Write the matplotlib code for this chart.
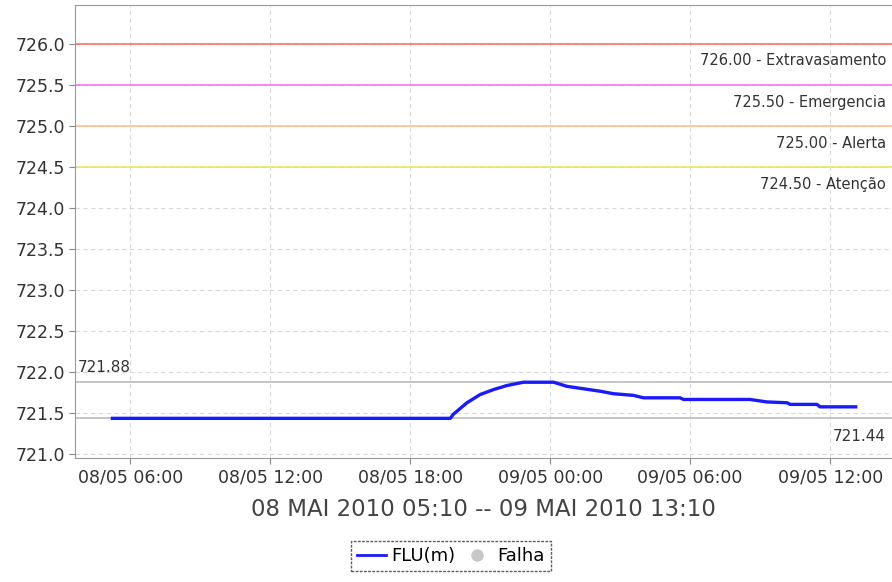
import matplotlib
matplotlib.use("Agg")
import matplotlib.pyplot as plt
import matplotlib.dates as mdates
from matplotlib.lines import Line2D
import pandas as pd

# ---- data ----
times = ["2010-05-08 05:10", "2010-05-08 19:43", "2010-05-08 19:51", "2010-05-08 20:26",
         "2010-05-08 21:00", "2010-05-08 21:34", "2010-05-08 22:09", "2010-05-08 22:51",
         "2010-05-09 00:09", "2010-05-09 00:43", "2010-05-09 01:26", "2010-05-09 02:09",
         "2010-05-09 02:43", "2010-05-09 03:34", "2010-05-09 04:00", "2010-05-09 05:34",
         "2010-05-09 05:43", "2010-05-09 08:34", "2010-05-09 09:17", "2010-05-09 10:09",
         "2010-05-09 10:17", "2010-05-09 11:26", "2010-05-09 11:34", "2010-05-09 13:10"]
levels = [721.44, 721.44, 721.49, 721.63, 721.73, 721.79, 721.84, 721.88,
          721.88, 721.83, 721.80, 721.77, 721.74, 721.72, 721.69, 721.69,
          721.67, 721.67, 721.64, 721.63, 721.61, 721.61, 721.58, 721.58]

thresh_values = [726.00, 725.50, 725.00, 724.50]
thresh_names = ["Extravasamento", "Emergencia", "Alerta", "Atenção"]
thresh_colors = ["#ff7070", "#ff70ff", "#ffc090", "#f0e070"]

max_level = 721.88
min_level = 721.44

x_ticks = ["2010-05-08 06:00", "2010-05-08 12:00", "2010-05-08 18:00",
           "2010-05-09 00:00", "2010-05-09 06:00", "2010-05-09 12:00"]
x_range = ("2010-05-08 03:38", "2010-05-09 14:39")
y_ticks = [721.0, 721.5, 722.0, 722.5, 723.0, 723.5, 724.0, 724.5, 725.0, 725.5, 726.0]
title = "08 MAI 2010 05:10 -- 09 MAI 2010 13:10"

# ---- plot ----
t = pd.to_datetime(times)
fig = plt.figure(figsize=(8.92, 5.82), dpi=100)
ax = fig.add_axes([75/892, 1 - 458/582, 1 - 75/892, (458 - 5)/582])

ax.set_xlim(pd.to_datetime(x_range[0]), pd.to_datetime(x_range[1]))
ax.set_ylim(720.957, 726.475)

ax.set_yticks(y_ticks)
ax.set_yticklabels([f"{v:.1f}" for v in y_ticks])
ax.set_xticks(pd.to_datetime(x_ticks))
ax.xaxis.set_major_formatter(mdates.DateFormatter("%d/%m %H:%M"))

ax.grid(True, color="#d8d8d8", linestyle=(0, (4, 3)), linewidth=0.8)
ax.set_axisbelow(True)

for v, n, c in zip(thresh_values, thresh_names, thresh_colors):
    ax.axhline(v, color=c, linewidth=1.2)
    ax.annotate(f"{v:.2f} - {n}", xy=(1, v), xycoords=("axes fraction", "data"),
                xytext=(-6, -17), textcoords="offset pixels",
                ha="right", va="center", fontsize=10.5, color="#333333")

ax.axhline(max_level, color="#c0c0c0", linewidth=1.3)
ax.axhline(min_level, color="#c0c0c0", linewidth=1.3)
ax.annotate(f"{max_level:.2f}", xy=(0, max_level), xycoords=("axes fraction", "data"),
            xytext=(3, 15), textcoords="offset pixels", ha="left", va="center",
            fontsize=11, color="#333333")
ax.annotate(f"{min_level:.2f}", xy=(1, min_level), xycoords=("axes fraction", "data"),
            xytext=(-6, -18), textcoords="offset pixels", ha="right", va="center",
            fontsize=11, color="#333333")

ax.plot(t, levels, color="#1a1aff", linewidth=2.4, solid_capstyle="butt")

for s in ["left", "bottom", "top"]:
    ax.spines[s].set_color("#999999")
ax.spines["right"].set_visible(False)
ax.tick_params(axis="both", colors="#888888", labelcolor="#333333", labelsize=12.5,
               length=4, direction="out")
ax.tick_params(axis="y", pad=3)

ax.set_xlabel(title, fontsize=16.5, color="#444444", labelpad=8)

handles = [Line2D([0], [0], color="#1a1aff", linewidth=2),
           Line2D([0], [0], color="#c8c8c8", marker="o", linestyle="none", markersize=8)]
leg = fig.legend(handles, ["FLU(m)", "Falha"], loc="center", bbox_to_anchor=(451/892, 1 - 556/582),
                 ncol=2, fontsize=13, frameon=True, fancybox=False, handlelength=1.6,
                 handletextpad=0.3, columnspacing=0.4, borderpad=0.35, borderaxespad=0)
leg.get_frame().set_edgecolor("#333333")
leg.get_frame().set_linestyle((0, (2, 1)))
leg.get_frame().set_linewidth(1.0)

fig.savefig("out.png", dpi=100)
